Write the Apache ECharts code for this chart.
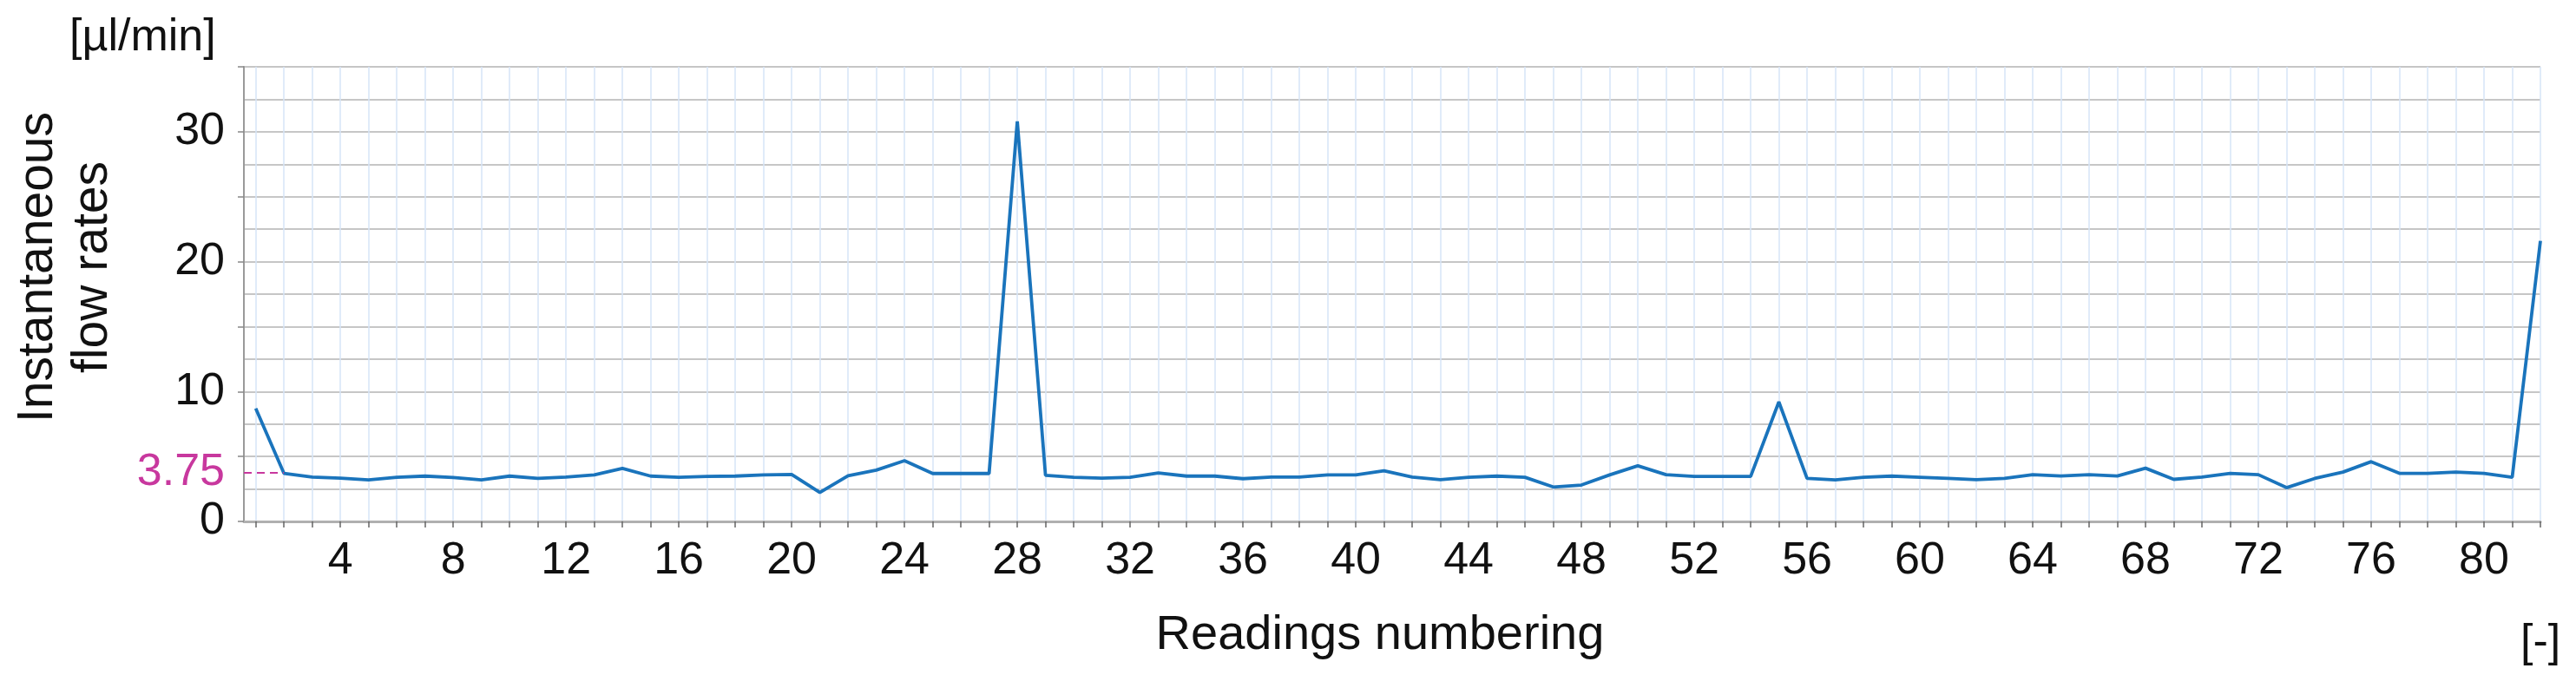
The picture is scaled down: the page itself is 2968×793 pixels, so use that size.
<!DOCTYPE html>
<html>
<head>
<meta charset="UTF-8">
<title>Instantaneous flow rates</title>
<script src="https://cdn.jsdelivr.net/npm/echarts@6.0.0/dist/echarts.min.js"></script>
<style>
	html, body { margin: 0; padding: 0; background: #fff; }
	#chart { width: 2968px; height: 793px; }
</style>
</head>
<body>
<div id="chart"></div>
<script>
// readings numbering (x) and flow rates in µl/min (y)
var readings = [1, 2, 3, 4, 5, 6, 7, 8, 9, 10, 11, 12, 13, 14, 15, 16, 17, 18, 19, 20,
	21, 22, 23, 24, 25, 26, 27, 28, 29, 30, 31, 32, 33, 34, 35, 36, 37, 38, 39, 40,
	41, 42, 43, 44, 45, 46, 47, 48, 49, 50, 51, 52, 53, 54, 55, 56, 57, 58, 59, 60,
	61, 62, 63, 64, 65, 66, 67, 68, 69, 70, 71, 72, 73, 74, 75, 76, 77, 78, 79, 80, 81, 82];
var flowRates = [8.7, 3.7, 3.42, 3.33, 3.2, 3.4, 3.49, 3.38, 3.2, 3.49,
	3.31, 3.42, 3.58, 4.08, 3.49, 3.4, 3.47, 3.49, 3.58, 3.62,
	2.23, 3.51, 3.95, 4.68, 3.69, 3.69, 3.69, 30.8, 3.55, 3.4,
	3.33, 3.4, 3.73, 3.49, 3.49, 3.29, 3.42, 3.42, 3.58, 3.58,
	3.9, 3.42, 3.22, 3.4, 3.49, 3.4, 2.65, 2.8, 3.58, 4.28,
	3.6, 3.47, 3.47, 3.47, 9.2, 3.31, 3.2, 3.4, 3.49, 3.4,
	3.31, 3.22, 3.31, 3.6, 3.5, 3.6, 3.5, 4.1, 3.24, 3.42,
	3.7, 3.6, 2.6, 3.31, 3.8, 4.6, 3.7, 3.7, 3.8, 3.7, 3.4, 21.6];
var xTickLabels = [4, 8, 12, 16, 20, 24, 28, 32, 36, 40, 44, 48, 52, 56, 60, 64, 68, 72, 76, 80];
var yTickLabels = [0, 10, 20, 30];
var refLevel = 3.75;

var xMin = 0.58, xMax = 82;
var font = 'Liberation Sans, Arial, sans-serif';

var points = [];
for (var i = 0; i < readings.length; i++) {
	points.push([readings[i], flowRates[i]]);
}

var chart = echarts.init(document.getElementById('chart'));
var option = {
	animation: false,
	backgroundColor: '#fff',
	textStyle: { fontFamily: font },
	grid: { left: 281, right: 41, top: 77, bottom: 192, containLabel: false, outerBoundsMode: 'none' },
	xAxis: {
		type: 'value',
		min: xMin,
		max: xMax,
		name: 'Readings numbering',
		nameLocation: 'middle',
		nameGap: 104,
		nameTextStyle: { fontSize: 56, color: '#111', fontFamily: font, padding: [0, 28, 0, 0] },
		axisLine: { show: true, onZero: false, lineStyle: { color: '#b0b0b0', width: 3 } },
		axisTick: { show: true, length: 7, customValues: readings, lineStyle: { color: '#666', width: 1.5 } },
		axisLabel: { customValues: xTickLabels, fontSize: 52, color: '#111', margin: 20, fontFamily: font },
		splitLine: { show: true, lineStyle: { color: '#d6e4f7', width: 1.5 } }
	},
	yAxis: {
		type: 'value',
		min: 0,
		max: 35,
		interval: 5,
		name: 'Instantaneous\nflow rates',
		nameLocation: 'middle',
		nameRotate: 90,
		nameGap: 142,
		nameTextStyle: { fontSize: 57, lineHeight: 63, color: '#111', fontFamily: font, padding: [0, 0, 0, 62] },
		axisLine: { show: true, lineStyle: { color: '#9a9a9a', width: 2 } },
		axisTick: { show: true, length: 7, lineStyle: { color: '#888', width: 1.5 } },
		axisLabel: {
			fontSize: 52, color: '#111', margin: 22, fontFamily: font,
			formatter: function(v) { return yTickLabels.indexOf(v) >= 0 ? String(v) : ''; }
		},
		splitLine: { show: true, lineStyle: { color: '#c6c6c6', width: 2 } },
		minorTick: { show: false, splitNumber: 2 },
		minorSplitLine: { show: true, lineStyle: { color: '#c6c6c6', width: 2 } }
	},
	graphic: [
		{ type: 'text', left: 80, top: 18, style: { text: '[µl/min]', fontSize: 52, fontFamily: font, fill: '#111' } },
		{ type: 'text', left: 2904, top: 716, style: { text: '[-]', fontSize: 52, fontFamily: font, fill: '#111' } }
	],
	series: [{
		type: 'line',
		data: points,
		showSymbol: false,
		lineStyle: { color: '#1a74bc', width: 3.8 },
		itemStyle: { color: '#1a74bc' },
		markLine: {
			silent: true,
			symbol: ['none', 'none'],
			lineStyle: { color: '#c8389e', width: 2, type: [9, 6] },
			label: {
				show: true, position: 'start', distance: 22,
				formatter: String(refLevel),
				fontSize: 52, color: '#c8389e', fontFamily: font
			},
			data: [[{ coord: [xMin, refLevel] }, { coord: [2, refLevel] }]]
		}
	}]
};
chart.setOption(option);
</script>
</body>
</html>
